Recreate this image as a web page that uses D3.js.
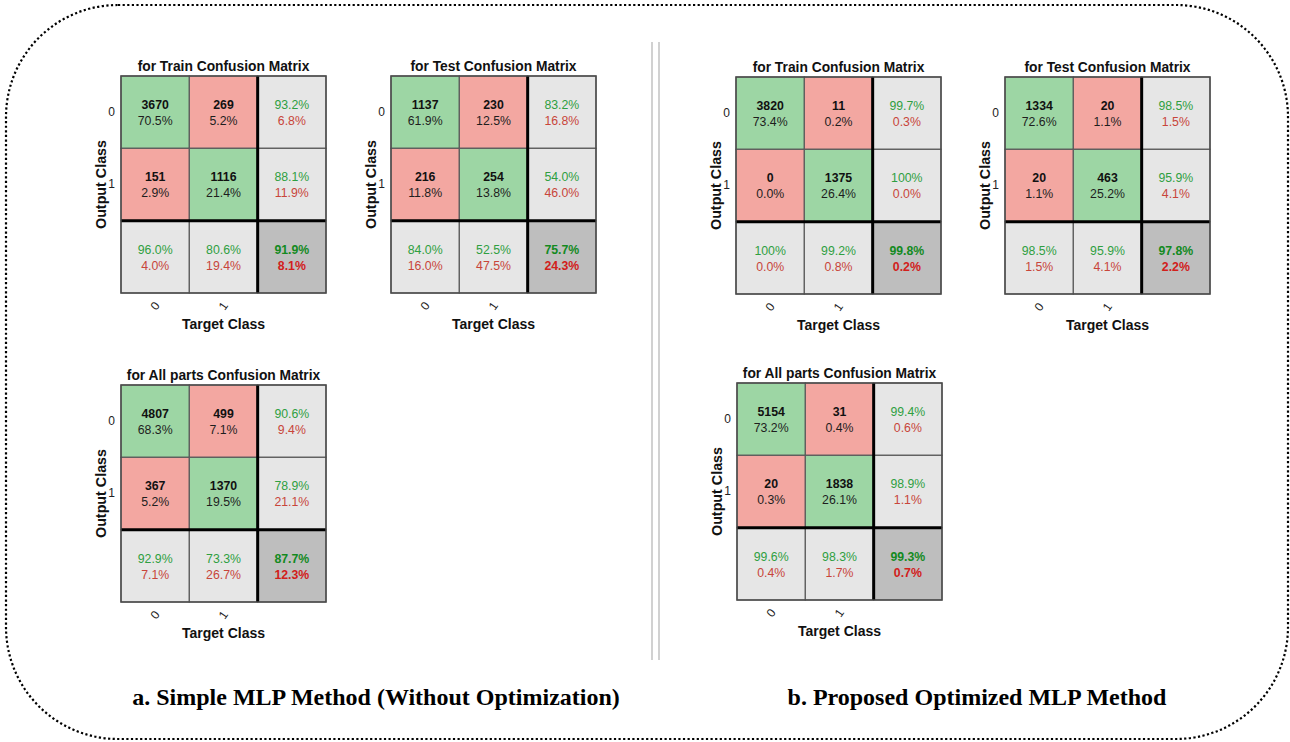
<!DOCTYPE html>
<html>
<head>
<meta charset="utf-8">
<script src="https://cdn.jsdelivr.net/npm/d3@7"></script>
<style>
  html, body { margin: 0; padding: 0; background: #fff; }
  svg { display: block; }
</style>
</head>
<body>
<svg id="fig" width="1290" height="742"></svg>
<script>
// Class labels (rows = output class, columns = target class)
const classes = ["0", "1"];

// Confusion counts: [output row][target column]
const simpleTrain = [[3670, 269], [151, 1116]];
const simpleTest  = [[1137, 230], [216, 254]];
const simpleAll   = [[4807, 499], [367, 1370]];
const optTrain    = [[3820, 11], [0, 1375]];
const optTest     = [[1334, 20], [20, 463]];
const optAll      = [[5154, 31], [20, 1838]];

const titles = [
  "for Train Confusion Matrix",
  "for Test Confusion Matrix",
  "for All parts Confusion Matrix"
];
const captions = [
  "a. Simple MLP Method (Without Optimization)",
  "b. Proposed Optimized MLP Method"
];

// Layout of the six matrices (top-left corner of each grid)
const panels = [
  { data: simpleTrain, title: titles[0], x: 121, y: 76 },
  { data: simpleTest,  title: titles[1], x: 391, y: 76 },
  { data: simpleAll,   title: titles[2], x: 121, y: 385 },
  { data: optTrain,    title: titles[0], x: 736, y: 77 },
  { data: optTest,     title: titles[1], x: 1005, y: 77 },
  { data: optAll,      title: titles[2], x: 737, y: 383 }
];

const W = 205, H = 217;
const COL = {
  good: "#9dd6a4", bad: "#f3a7a1", stat: "#e6e6e6", total: "#bebebe",
  gText: "#2f9f41", rText: "#c8453a", gBold: "#138a1f", rBold: "#d2201b",
  grid: "#5c5c5c"
};
const SANS = "Liberation Sans, Arial, sans-serif";

const svg = d3.select("#fig");

// Dotted rounded frame around the whole figure
svg.append("rect")
  .attr("x", 6).attr("y", 5).attr("width", 1282).attr("height", 734)
  .attr("rx", 112).attr("ry", 112)
  .attr("fill", "none").attr("stroke", "#000")
  .attr("stroke-width", 2.2).attr("stroke-dasharray", "2.2 2.4");

// Double vertical separator between the two halves
[652, 659].forEach(x => {
  svg.append("line")
    .attr("x1", x).attr("x2", x).attr("y1", 42).attr("y2", 660)
    .attr("stroke", "#b8b8b8").attr("stroke-width", 1.3);
});

function pct(v) {
  return v === 100 ? "100%" : v.toFixed(1) + "%";
}

function drawMatrix(p) {
  const m = p.data;
  const keys = [...classes, "stat"];
  const x = d3.scaleBand().domain(keys).range([0, W]);
  const y = d3.scaleBand().domain(keys).range([0, H]);
  const g = svg.append("g").attr("transform", `translate(${p.x},${p.y})`);

  const total = d3.sum(m.flat());
  const rowSum = m.map(r => d3.sum(r));
  const colSum = classes.map((_, j) => d3.sum(m, r => r[j]));
  const correct = m[0][0] + m[1][1];

  const cells = [];
  keys.forEach((rk, i) => keys.forEach((ck, j) => {
    let fill, lines;
    if (i < 2 && j < 2) {
      fill = i === j ? COL.good : COL.bad;
      lines = [
        { t: String(m[i][j]), c: "#111", w: "bold" },
        { t: pct(100 * m[i][j] / total), c: "#1e1e1e", w: "normal" }
      ];
    } else if (i < 2) {
      const acc = 100 * m[i][i] / rowSum[i];
      fill = COL.stat;
      lines = [{ t: pct(acc), c: COL.gText, w: "normal" }, { t: pct(100 - acc), c: COL.rText, w: "normal" }];
    } else if (j < 2) {
      const acc = 100 * m[j][j] / colSum[j];
      fill = COL.stat;
      lines = [{ t: pct(acc), c: COL.gText, w: "normal" }, { t: pct(100 - acc), c: COL.rText, w: "normal" }];
    } else {
      const acc = 100 * correct / total;
      fill = COL.total;
      lines = [{ t: pct(acc), c: COL.gBold, w: "bold" }, { t: pct(100 - acc), c: COL.rBold, w: "bold" }];
    }
    cells.push({ rk, ck, fill, lines });
  }));

  const cg = g.selectAll("g.cell").data(cells).join("g")
    .attr("class", "cell")
    .attr("transform", d => `translate(${x(d.ck)},${y(d.rk)})`);

  cg.append("rect")
    .attr("width", x.bandwidth()).attr("height", y.bandwidth())
    .attr("fill", d => d.fill)
    .attr("stroke", COL.grid).attr("stroke-width", 1.2);

  cg.each(function (d) {
    const sel = d3.select(this);
    d.lines.forEach((l, k) => {
      sel.append("text")
        .attr("x", x.bandwidth() / 2)
        .attr("y", y.bandwidth() / 2 + (k === 0 ? -7 : 9))
        .attr("text-anchor", "middle")
        .attr("dominant-baseline", "central")
        .attr("font-family", SANS)
        .attr("font-size", 12.3)
        .attr("font-weight", l.w)
        .attr("fill", l.c)
        .text(l.t);
    });
  });

  // Heavy separators around the summary row and column
  g.append("line")
    .attr("x1", 0).attr("x2", W)
    .attr("y1", y("stat")).attr("y2", y("stat"))
    .attr("stroke", "#000").attr("stroke-width", 3);
  g.append("line")
    .attr("x1", x("stat")).attr("x2", x("stat"))
    .attr("y1", 0).attr("y2", H)
    .attr("stroke", "#000").attr("stroke-width", 3);

  // Outer frame
  g.append("rect").attr("width", W).attr("height", H)
    .attr("fill", "none").attr("stroke", "#4a4a4a").attr("stroke-width", 1.4);

  // Row tick labels (output class)
  const yAxis = d3.axisLeft(y).tickValues(classes).tickSize(0).tickPadding(6);
  const ya = g.append("g").call(yAxis);
  ya.select(".domain").remove();
  ya.selectAll("text")
    .attr("font-family", SANS)
    .attr("font-size", 12).attr("fill", "#222");

  // Column tick labels (target class), slanted
  const xAxis = d3.axisBottom(x).tickValues(classes).tickSize(0).tickPadding(0);
  const xa = g.append("g").attr("transform", `translate(0,${H})`).call(xAxis);
  xa.select(".domain").remove();
  xa.selectAll("text")
    .attr("font-family", SANS)
    .attr("font-size", 12).attr("fill", "#222")
    .attr("dy", null).attr("y", 0)
    .attr("text-anchor", "middle")
    .attr("dominant-baseline", "central")
    .attr("transform", "translate(0,13) rotate(-55)");

  // Title and axis names
  g.append("text")
    .attr("x", W / 2).attr("y", -5)
    .attr("text-anchor", "middle")
    .attr("font-family", SANS)
    .attr("font-size", 13.8).attr("font-weight", "bold").attr("fill", "#111")
    .text(p.title);

  g.append("text")
    .attr("transform", `translate(-20,${H / 2}) rotate(-90)`)
    .attr("text-anchor", "middle")
    .attr("dominant-baseline", "central")
    .attr("font-family", SANS)
    .attr("font-size", 14.3).attr("font-weight", "bold").attr("fill", "#111")
    .text("Output Class");

  g.append("text")
    .attr("x", W / 2).attr("y", H + 31)
    .attr("text-anchor", "middle")
    .attr("dominant-baseline", "central")
    .attr("font-family", SANS)
    .attr("font-size", 14).attr("font-weight", "bold").attr("fill", "#111")
    .text("Target Class");
}

panels.forEach(drawMatrix);

// Half captions
[{ t: captions[0], x: 376 }, { t: captions[1], x: 977 }].forEach(c => {
  svg.append("text")
    .attr("x", c.x).attr("y", 705)
    .attr("text-anchor", "middle")
    .attr("font-family", "Liberation Serif, Times New Roman, serif")
    .attr("font-size", 24).attr("font-weight", "bold").attr("fill", "#000")
    .text(c.t);
});
</script>
</body>
</html>
